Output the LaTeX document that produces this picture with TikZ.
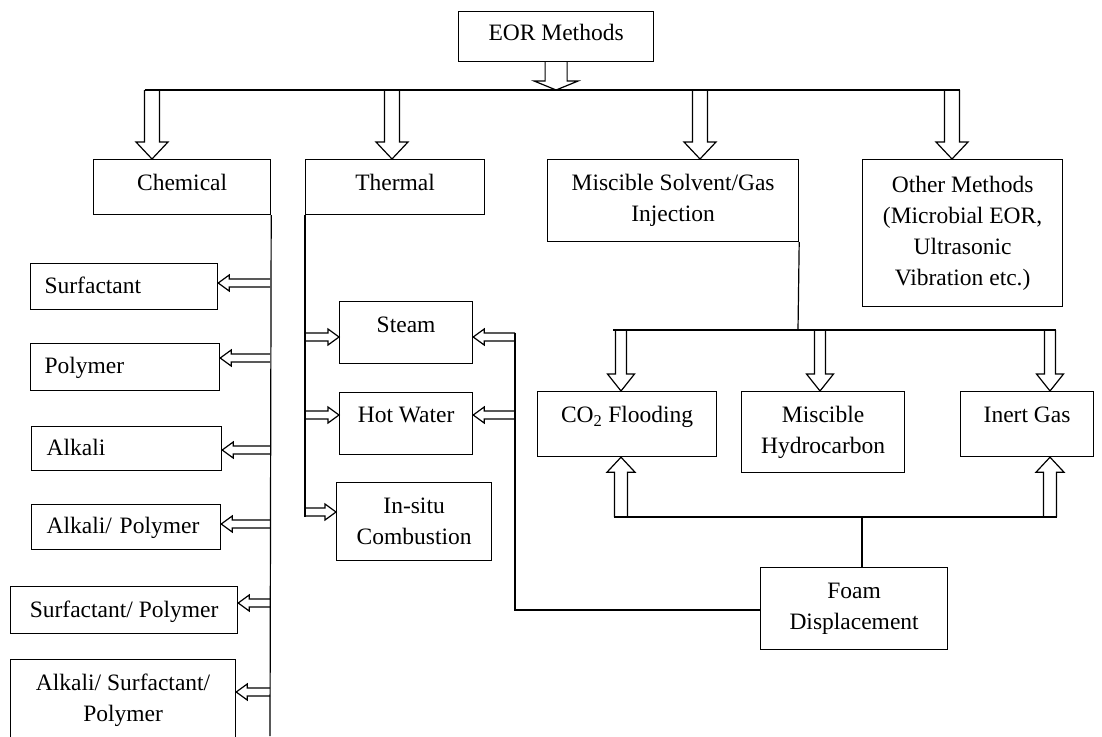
\documentclass[tikz,border=0pt]{standalone}
\usepackage{fontspec}
\setmainfont{Liberation Serif}
\usetikzlibrary{calc}
\tikzset{
  barrow/.style n args={3}{to path={
    let \p1=(\tikztostart), \p2=(\tikztotarget), \n1={atan2(\y2-\y1,\x2-\x1)} in
    ($(\p1)+(\n1+90:#1)$) -- ($(\p2)+(\n1+180:#3)+(\n1+90:#1)$)
    -- ($(\p2)+(\n1+180:#3)+(\n1+90:#2)$) -- (\p2)
    -- ($(\p2)+(\n1+180:#3)+(\n1-90:#2)$) -- ($(\p2)+(\n1+180:#3)+(\n1-90:#1)$)
    -- ($(\p1)+(\n1-90:#1)$)
  }},
  toparrow/.style={barrow={7.5pt}{16pt}{17pt}},
  midarrow/.style={barrow={5.5pt}{13.5pt}{17pt}},
  uparrow/.style={barrow={6.5pt}{14pt}{15pt}},
  smallarrow/.style={barrow={4pt}{8pt}{11pt}},
  eorarrow/.style={barrow={11pt}{22pt}{9pt}},
  box/.style={draw, inner sep=0pt, anchor=north west, align=center},
  onebox/.style={box, text height=16pt, text depth=#1},
  leftbox/.style={draw, inner xsep=14pt, inner ysep=0pt, anchor=north west, align=left, text height=16pt, text depth=#1},
}
\begin{document}
\begin{tikzpicture}[x=1pt,y=-1pt, font=\fontsize{23.5}{31}\selectfont, line width=1.2pt, line join=miter]
\clip (0,0) rectangle (1102,736);

% level 0
\node[onebox=8pt, minimum width=195, minimum height=50] (eor) at (458,11) {EOR Methods};

% level 1
\node[onebox=9pt, minimum width=177, minimum height=55] (chem) at (93,159) {Chemical};
\node[onebox=9pt, minimum width=179, minimum height=55] (therm) at (305,159) {Thermal};
\node[box, minimum width=251, minimum height=82] (misc) at (547,159) {Miscible Solvent/Gas\\Injection};
\node[box, minimum width=200, minimum height=147] (other) at (862,159) {Other Methods\\(Microbial EOR,\\Ultrasonic\\Vibration etc.)};

% chemical list
\node[leftbox=2pt, minimum width=187, minimum height=46, text width=159] (surf) at (30,263) {Surfactant};
\node[leftbox=3pt, minimum width=189, minimum height=47, text width=161] (poly) at (30,343) {Polymer};
\node[leftbox=2pt, minimum width=188, minimum height=44, text width=160, inner xsep=15pt] (alk) at (31,426) {Alkali};
\node[leftbox=3pt, minimum width=189, minimum height=45, text width=159, inner xsep=15pt] (alkpoly) at (31,504) {Alkali/ Polymer};
\node[onebox=1pt, minimum width=227, minimum height=47] (surfpoly) at (10,586) {Surfactant/ Polymer};
\node[box, minimum width=225, minimum height=81] (asp) at (10,659) {Alkali/ Surfactant/\\Polymer};

% thermal list
\node[onebox=16pt, minimum width=133, minimum height=62] (steam) at (339,301) {Steam};
\node[onebox=18pt, minimum width=133, minimum height=62] (hot) at (339,392) {Hot Water};
\node[box, minimum width=155, minimum height=78] (insitu) at (336,482) {In-situ\\Combustion};

% miscible list
\node[onebox=19pt, minimum width=179, minimum height=65] (co2) at (537,391) {CO\textsubscript{2} Flooding};
\node[box, minimum width=163, minimum height=81] (mhc) at (741,391) {Miscible\\Hydrocarbon};
\node[onebox=19pt, minimum width=133, minimum height=65] (inert) at (960,391) {Inert Gas};
\node[box, minimum width=187, minimum height=82] (foam) at (760,567) {Foam\\Displacement};

% top distribution
\coordinate (t1) at (152,90);
\coordinate (t2) at (392,90);
\coordinate (t3) at (700,90);
\coordinate (t4) at (952,90);
\draw ([xshift=-7.5pt]t1) -- ([xshift=7.5pt]t4);
\draw[eorarrow] (eor.south) to (eor.south |- t1);
\draw[toparrow] (t1) to (t1 |- chem.north);
\draw[toparrow] (t2) to (t2 |- therm.north);
\draw[toparrow] (t3) to (t3 |- misc.north);
\draw[toparrow] (t4) to (t4 |- other.north);

% chemical branch
\coordinate (cend) at (270,736);
\draw (chem.south east) -- (cend);
\coordinate (ca1) at (270,283);
\coordinate (ca2) at (270,358);
\coordinate (ca3) at (270,450);
\coordinate (ca4) at (270,524);
\coordinate (ca5) at (270,603);
\coordinate (ca6) at (270,692);
\draw[smallarrow] (ca1) to (ca1 -| surf.east);
\draw[smallarrow] (ca2) to (ca2 -| poly.east);
\draw[smallarrow] (ca3) to (ca3 -| alk.east);
\draw[smallarrow] (ca4) to (ca4 -| alkpoly.east);
\draw[smallarrow] (ca5) to (ca5 -| surfpoly.east);
\draw[smallarrow] (ca6) to (ca6 -| asp.east);

% thermal branch
\coordinate (tend) at (305,517);
\draw (therm.south west) -- (tend);
\coordinate (ta1) at (305,337);
\coordinate (ta2) at (305,415);
\coordinate (ta3) at (305,512);
\draw[smallarrow] (ta1) to (ta1 -| steam.west);
\draw[smallarrow] (ta2) to (ta2 -| hot.west);
\draw[smallarrow] (ta3) to (ta3 -| insitu.west);

% foam to thermal
\coordinate (rtop) at (515,333);
\coordinate (rbot) at (515,610);
\draw (rtop) -- (rbot) -- (rbot -| foam.west);
\coordinate (ra1) at (515,337);
\coordinate (ra2) at (515,415);
\draw[smallarrow] (ra1) to (ra1 -| steam.east);
\draw[smallarrow] (ra2) to (ra2 -| hot.east);

% miscible branch
\coordinate (mb) at (798,330);
\draw (misc.south east) -- (mb);
\coordinate (ma1) at (621,330);
\coordinate (ma2) at (820,330);
\coordinate (ma3) at (1050,330);
\draw ([xshift=-8pt]ma1) -- ([xshift=6pt]ma3);
\draw[midarrow] (ma1) to (ma1 |- co2.north);
\draw[midarrow] (ma2) to (ma2 |- mhc.north);
\draw[midarrow] (ma3) to (ma3 |- inert.north);

% foam branch
\coordinate (ua1) at (621,517);
\coordinate (ua2) at (1050,517);
\coordinate (fb) at (862,517);
\draw ([xshift=-7pt]ua1) -- ([xshift=6.5pt]ua2);
\draw[uparrow] (ua1) to (ua1 |- co2.south);
\draw[uparrow] (ua2) to (ua2 |- inert.south);
\draw (fb) -- (fb |- foam.north);
\end{tikzpicture}
\end{document}
